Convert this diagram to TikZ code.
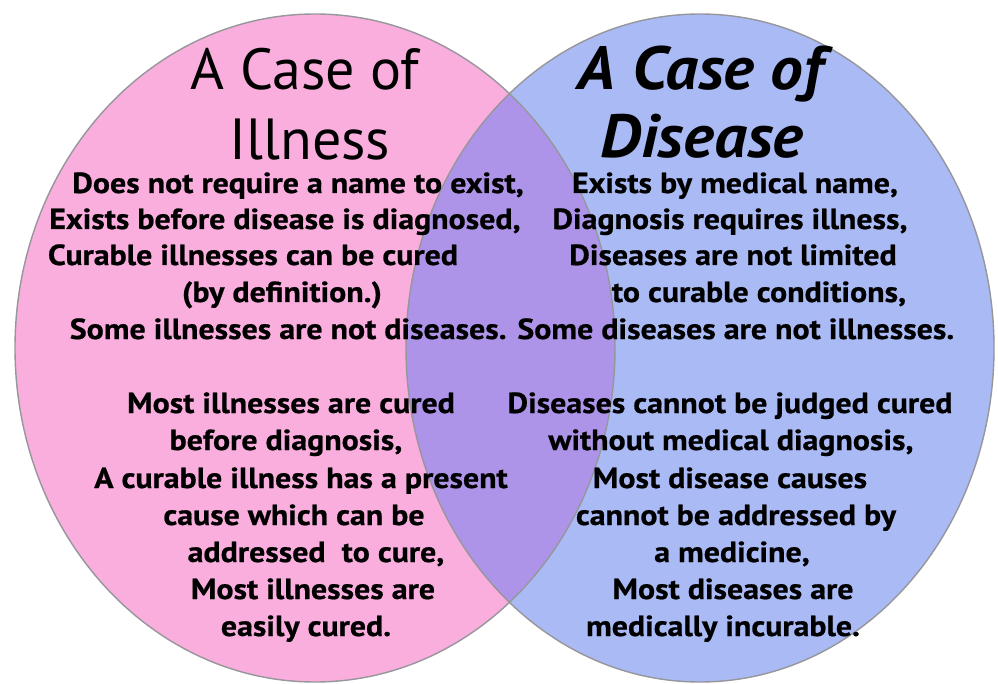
\documentclass[tikz,border=0pt]{standalone}
\usepackage{fontspec}
\setmainfont{PT Sans}
\newfontfamily\bodyf{PT Sans}[FakeStretch=1.10,BoldFeatures={FakeBold=0.7}]
\newfontfamily\ttlf{PT Sans}[FakeStretch=1.07]
\definecolor{pinkc}{RGB}{249,174,222}
\definecolor{bluec}{RGB}{170,186,244}
\definecolor{purplec}{RGB}{174,148,232}
\definecolor{edgec}{RGB}{150,150,155}
\begin{document}
\begin{tikzpicture}[x=1pt,y=-1pt,
  body/.style={anchor=base,inner sep=0pt,font=\bodyf\fontsize{29}{34}\selectfont\bfseries},
  ttlA/.style={anchor=base,inner sep=0pt,font=\fontsize{58}{64}\selectfont},
  ttlB/.style={anchor=base,inner sep=0pt,font=\ttlf\fontsize{61}{66}\selectfont\bfseries\itshape},
  ring/.style={draw=edgec,line width=1.4pt}]
\useasboundingbox (0,0) rectangle (998,684);
\fill[white] (0,0) rectangle (998,684);
\fill[pinkc] (315,348) ellipse [x radius=300,y radius=334];
\fill[bluec] (700,348) ellipse [x radius=294,y radius=334];
\begin{scope}
  \clip (315,348) ellipse [x radius=300,y radius=334];
  \fill[purplec] (700,348) ellipse [x radius=294,y radius=334];
\end{scope}
\draw[ring] (315,348) ellipse [x radius=300,y radius=334];
\draw[ring] (700,348) ellipse [x radius=294,y radius=334];
% titles
\node[ttlA] (tl1) at (305,90) {A Case of};
\node[ttlA] (tl2) at (310,160) {Illness};
\node[ttlB] (tr1) at (700,90) {A Case of};
\node[ttlB] (tr2) at (702,158) {Disease};
% top left
\node[body] (a1) at (298,193) {Does not require a name to exist,};
\node[body] (a2) at (285,229) {Exists before disease is diagnosed,};
\node[body] (a3) at (253,265) {Curable illnesses can be cured};
\node[body] (a4) at (282,302) {(by definition.)};
\node[body] (a5) at (512,339) {Some illnesses are not diseases. Some diseases are not illnesses.};
% top right
\node[body] (b1) at (735,193) {Exists by medical name,};
\node[body] (b2) at (730,229) {Diagnosis requires illness,};
\node[body] (b3) at (733,265) {Diseases are not limited};
\node[body] (b4) at (759,302) {to curable conditions,};
% lower left
\node[body] (c1) at (291,413) {Most illnesses are cured};
\node[body] (c2) at (286,450) {before diagnosis,};
\node[body] (c3) at (301,488) {A curable illness has a present};
\node[body] (c4) at (294,525) {cause which can be};
\node[body] (c5) at (316,562) {addressed\ \ to cure,};
\node[body] (c6) at (313,599) {Most illnesses are};
\node[body] (c7) at (306,636) {easily cured.};
% lower right
\node[body] (d1) at (730,413) {Diseases cannot be judged cured};
\node[body] (d2) at (731,450) {without medical diagnosis,};
\node[body] (d3) at (730,488) {Most disease causes};
\node[body] (d4) at (736,525) {cannot be addressed by};
\node[body] (d5) at (732,562) {a medicine,};
\node[body] (d6) at (733,599) {Most diseases are};
\node[body] (d7) at (723,636) {medically incurable.};
\end{tikzpicture}
\end{document}
